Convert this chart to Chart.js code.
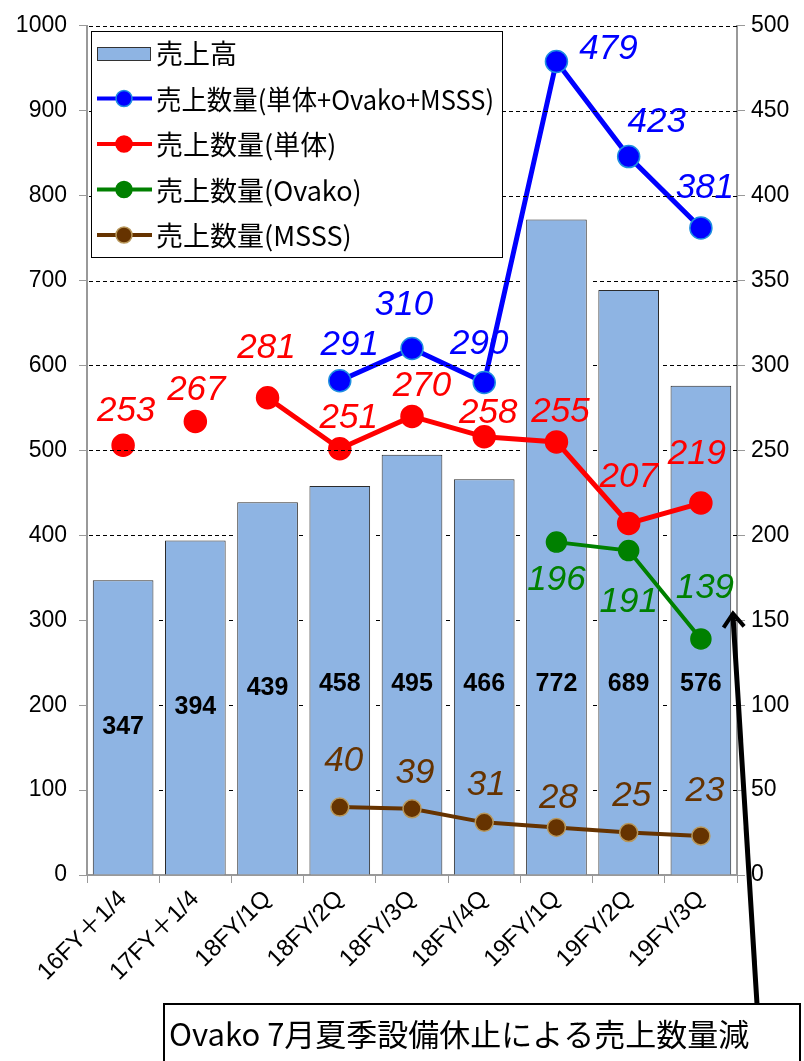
<!DOCTYPE html>
<html>
<head>
  <style>
    html, body { margin: 0; padding: 0; background: #fff; }
    canvas { display: block; }
  </style>
</head>
<body>
  <canvas id="myChart" width="804" height="1061"></canvas>

  <script src="https://cdn.jsdelivr.net/npm/chart.js"></script>
  <script type="text/javascript">
    const categories = ['16FY＋1/4', '17FY＋1/4', '18FY/1Q', '18FY/2Q', '18FY/3Q', '18FY/4Q', '19FY/1Q', '19FY/2Q', '19FY/3Q'];
    const sales = [347, 394, 439, 458, 495, 466, 772, 689, 576];
    const qtyTotal = [null, null, null, 291, 310, 290, 479, 423, 381];
    const qtySingle = [253, 267, 281, 251, 270, 258, 255, 207, 219];
    const qtyOvako = [null, null, null, null, null, null, 196, 191, 139];
    const qtyMsss = [null, null, null, 40, 39, 31, 28, 25, 23];
    const leftTicks = [0, 100, 200, 300, 400, 500, 600, 700, 800, 900, 1000];
    const rightTicks = [0, 50, 100, 150, 200, 250, 300, 350, 400, 450, 500];
    const noteText = 'Ovako 7月夏季設備休止による売上数量減';

    const FONT = '"Liberation Sans", "Noto Sans CJK JP", sans-serif';
    const JFONT = '"Noto Sans CJK JP", sans-serif';

    // dashed grid drawn only where no bar covers it, then the value labels
    const labelPlugin = {
      id: 'valueLabels',
      afterDatasetsDraw(chart) {
        const c = chart.ctx;
        const a = chart.chartArea;
        const yL = chart.scales.y;
        const bars = chart.getDatasetMeta(0).data;
        c.save();
        c.fillStyle = '#000';
        for (let k = 1; k < leftTicks.length; k++) {
          const py = Math.round(yL.getPixelForValue(leftTicks[k]));
          for (let x = a.left + 2; x < a.right - 1; x += 7) {
            const hit = bars.some(b => py >= b.y - 1 && x + 4 >= b.x - b.width / 2 - 1 && x <= b.x + b.width / 2 + 1);
            if (!hit) c.fillRect(x, py, Math.min(4, a.right - x), 1);
          }
        }
        c.textAlign = 'center';
        c.textBaseline = 'middle';
        chart.data.datasets.forEach((ds, di) => {
          const meta = chart.getDatasetMeta(di);
          meta.data.forEach((el, i) => {
            const v = ds.data[i];
            if (v === null || v === undefined) return;
            if (ds.type === 'bar') {
              // centre of bar, kept below the lines
              const y = Math.max((el.y + el.base) / 2, yL.getPixelForValue(225));
              c.font = 'bold 25px ' + FONT;
              c.fillStyle = '#000';
              c.fillText(v, el.x, y);
            } else {
              const off = (ds.labelOffsets && ds.labelOffsets[i]) || [4, -34];
              c.font = 'italic 35px ' + FONT;
              c.fillStyle = ds.borderColor;
              c.fillText(v, el.x + off[0], el.y + off[1]);
            }
          });
        });
        c.restore();
      }
    };

    const legendPlugin = {
      id: 'boxLegend',
      afterDraw(chart) {
        const c = chart.ctx;
        const x0 = 91, y0 = 31, w = 411, h = 226;
        c.save();
        c.fillStyle = '#fff';
        c.fillRect(x0, y0, w, h);
        c.strokeStyle = '#000';
        c.lineWidth = 1;
        c.strokeRect(x0 + 0.5, y0 + 0.5, w, h);
        c.font = '27px ' + JFONT;
        c.textBaseline = 'middle';
        c.textAlign = 'left';
        chart.data.datasets.forEach((ds, i) => {
          const yy = y0 + 22 + i * 45.5;
          if (ds.type === 'bar') {
            c.fillStyle = ds.backgroundColor;
            c.fillRect(x0 + 6, yy - 6, 53, 13);
            c.strokeStyle = '#333';
            c.lineWidth = 1;
            c.strokeRect(x0 + 6.5, yy - 5.5, 53, 13);
          } else {
            c.strokeStyle = ds.borderColor;
            c.lineWidth = 4;
            c.beginPath();
            c.moveTo(x0 + 6, yy);
            c.lineTo(x0 + 61, yy);
            c.stroke();
            c.beginPath();
            c.arc(x0 + 33, yy, 8, 0, Math.PI * 2);
            c.fillStyle = ds.pointBackgroundColor;
            c.fill();
            c.lineWidth = 1.5;
            c.strokeStyle = ds.pointBorderColor;
            c.stroke();
          }
          c.fillStyle = '#000';
          c.fillText(ds.label, x0 + 65, yy + 1, 338);
        });
        c.restore();
      }
    };

    const notePlugin = {
      id: 'note',
      afterDraw(chart) {
        const c = chart.ctx;
        const area = chart.chartArea;
        const tipX = area.right - 4;
        const tipY = chart.scales.y1.getPixelForValue(154);
        const baseX = 757, baseY = 1004;
        c.save();
        c.strokeStyle = '#000';
        c.lineWidth = 5;
        c.beginPath();
        c.moveTo(baseX, baseY);
        c.lineTo(tipX, tipY + 3);
        c.stroke();
        const ang = Math.atan2(tipY - baseY, tipX - baseX);
        c.lineWidth = 4;
        c.lineJoin = 'miter';
        c.beginPath();
        c.moveTo(tipX + 17 * Math.cos(ang + Math.PI - 0.65), tipY + 17 * Math.sin(ang + Math.PI - 0.65));
        c.lineTo(tipX, tipY);
        c.lineTo(tipX + 17 * Math.cos(ang + Math.PI + 0.65), tipY + 17 * Math.sin(ang + Math.PI + 0.65));
        c.stroke();
        c.fillStyle = '#fff';
        c.fillRect(164, 1004, 636, 60);
        c.lineWidth = 2;
        c.strokeRect(164, 1004, 636, 60);
        c.fillStyle = '#000';
        c.font = '31px ' + JFONT;
        c.textBaseline = 'middle';
        c.textAlign = 'left';
        c.fillText(noteText, 169, 1034, 598);
        c.restore();
      }
    };

    function lineSet(label, data, color, border, order, extra) {
      return Object.assign({
        type: 'line',
        label: label,
        data: data,
        yAxisID: 'y1',
        borderColor: color,
        backgroundColor: color,
        pointBackgroundColor: color,
        pointBorderColor: border,
        pointBorderWidth: 1.5,
        pointRadius: 11,
        borderWidth: 5,
        spanGaps: false,
        order: order
      }, extra || {});
    }

    new Chart(document.getElementById('myChart'), {
      data: {
        labels: categories,
        datasets: [
          {
            type: 'bar',
            label: '売上高',
            data: sales,
            yAxisID: 'y',
            backgroundColor: '#8EB4E3',
            borderColor: '#2b2b2b',
            borderWidth: 1,
            barPercentage: 0.84,
            categoryPercentage: 1,
            order: 10
          },
          lineSet('売上数量(単体+Ovako+MSSS)', qtyTotal, '#0000FF', '#1E8FE0', 2, {
            labelOffsets: [null, null, null, [10, -35], [-8, -43], [-5, -38], [52, -12], [28, -34], [4, -40]]
          }),
          lineSet('売上数量(単体)', qtySingle, '#FF0000', '#FF0000', 3, {
            segment: { borderColor: ctx => ctx.p1DataIndex <= 2 ? 'rgba(0,0,0,0)' : undefined },
            labelOffsets: [[3, -34], [1, -31], [-1, -49], [9, -30], [10, -30], [4, -24], [4, -30], [0, -46], [-4, -49]]
          }),
          lineSet('売上数量(Ovako)', qtyOvako, '#008000', '#008000', 1, {
            pointRadius: 10, borderWidth: 4,
            labelOffsets: [null, null, null, null, null, null, [0, 38], [0, 52], [4, -51]]
          }),
          lineSet('売上数量(MSSS)', qtyMsss, '#663300', '#B8975A', 4, {
            pointRadius: 9, borderWidth: 4,
            labelOffsets: [null, null, null, [4, -46], [3, -35], [2, -37], [2, -29], [3, -36], [4, -45]]
          })
        ]
      },
      options: {
        responsive: false,
        animation: false,
        devicePixelRatio: 1,
        layout: { padding: { top: 20, left: 0, right: 0, bottom: 0 } },
        plugins: {
          legend: { display: false },
          tooltip: { enabled: false }
        },
        scales: {
          x: {
            type: 'category',
            grid: {
              offset: true,
              drawOnChartArea: false,
              color: '#999',
              tickLength: 8
            },
            border: { color: '#999', width: 2 },
            ticks: {
              maxRotation: 45,
              minRotation: 45,
              color: '#000',
              padding: 2,
              font: { size: 24, family: FONT }
            },
            afterFit(s) { s.height = 186; }
          },
          y: {
            position: 'left',
            min: 0,
            max: 1000,
            afterBuildTicks(s) { s.ticks = leftTicks.map(v => ({ value: v })); },
            grid: {
              drawOnChartArea: false,
              color: '#999',
              tickLength: 8
            },
            border: { color: '#999', width: 2 },
            ticks: {
              color: '#000',
              padding: 12,
              font: { size: 23, family: FONT },
              callback: v => String(v)
            },
            afterFit(s) { s.width = 87; }
          },
          y1: {
            position: 'right',
            min: 0,
            max: 500,
            afterBuildTicks(s) { s.ticks = rightTicks.map(v => ({ value: v })); },
            grid: {
              drawOnChartArea: false,
              color: '#999',
              tickLength: 8
            },
            border: { color: '#999', width: 2 },
            ticks: {
              color: '#000',
              padding: 6,
              font: { size: 23, family: FONT },
              callback: v => String(v)
            },
            afterFit(s) { s.width = 67; }
          }
        }
      },
      plugins: [labelPlugin, legendPlugin, notePlugin]
    });
  </script>
</body>
</html>
